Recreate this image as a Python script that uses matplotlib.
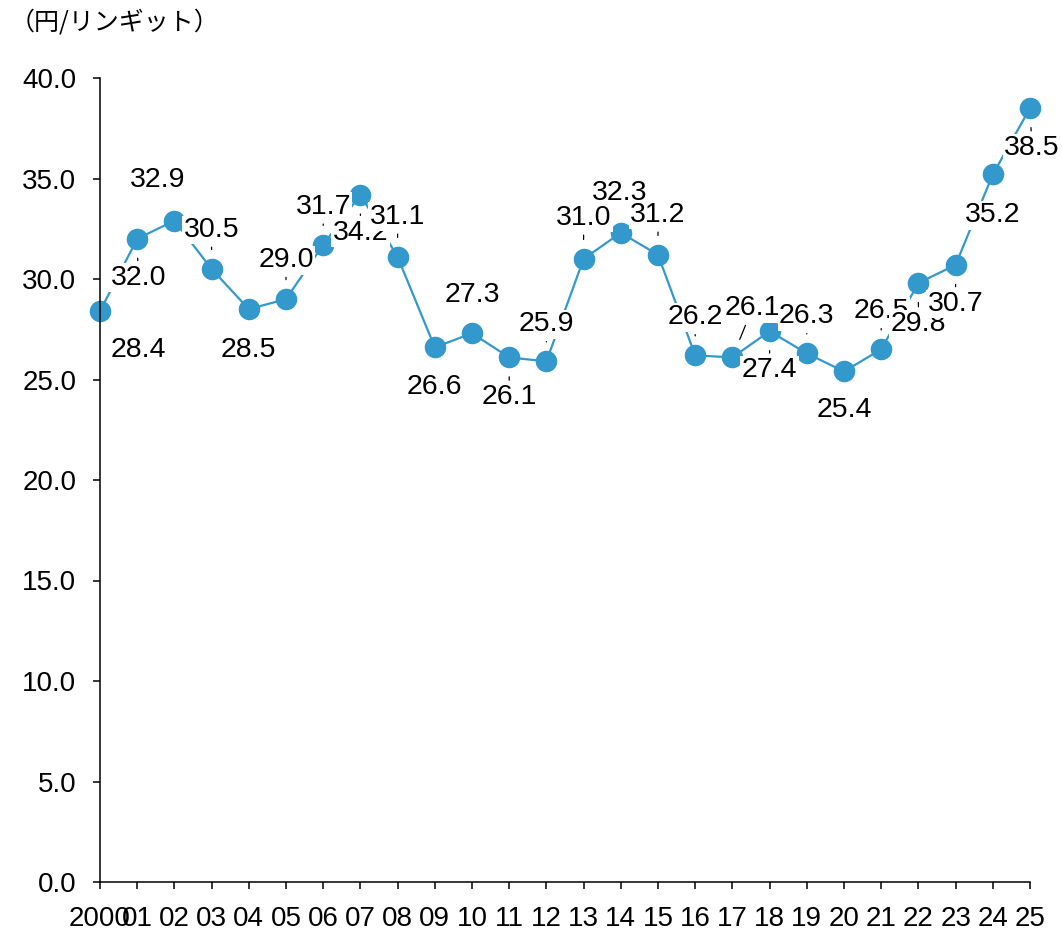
import matplotlib
matplotlib.use("Agg")
import matplotlib.pyplot as plt

# 円/リンギット（年平均）
years = ["2000"] + [f"{y:02d}" for y in range(1, 26)]
values = [28.4, 32.0, 32.9, 30.5, 28.5, 29.0, 31.7, 34.2, 31.1, 26.6,
          27.3, 26.1, 25.9, 31.0, 32.3, 31.2, 26.2, 26.1, 27.4, 26.3,
          25.4, 26.5, 29.8, 30.7, 35.2, 38.5]
# label offsets (pixels, right / down)
label_dx = [38, 1, -17, 0, 0, 0, 0, 0, 0, 0,
            0, 0, 0, 0, -1, 0, 0, 20, 0, 0,
            0, 0, 0, 0, 0, 2]
label_dy = [39, 39, -41, -39, 41, -39, -38, 38, -40, 40,
            -38, 40, -37, -41, -40, -40, -38, -49, 39, -37,
            39, -38, 41, 39, 41, 40]
# which labels get a leader line
leader = [0, 1, 0, 1, 0, 1, 1, 1, 1, 0,
          0, 1, 1, 1, 0, 1, 1, 1, 1, 1,
          0, 1, 1, 1, 0, 1]

LINE_COLOR = "#3399cc"
plt.rcParams["font.family"] = ["Liberation Sans", "Noto Sans CJK JP", "DejaVu Sans"]

fig = plt.figure(figsize=(10.62, 9.34), dpi=100)
ax = fig.add_axes([100 / 1062, 1 - 882 / 934, 930 / 1062, 804 / 934])

x = list(range(len(values)))
ax.plot(x, values, color=LINE_COLOR, linewidth=1.6, marker="o", markersize=14.5,
        markerfacecolor=LINE_COLOR, markeredgecolor=LINE_COLOR, zorder=2, clip_on=False)

px2pt = 72 / 100
for i, v in enumerate(values):
    arrow = None
    if leader[i]:
        arrow = dict(arrowstyle="-", color="black", linewidth=0.9, shrinkA=2, shrinkB=14)
    ax.annotate(
        f"{v:.1f}", xy=(i, v),
        xytext=(label_dx[i] * px2pt, -label_dy[i] * px2pt), textcoords="offset points",
        ha="center", va="center", fontsize=20.5, zorder=4 + (i != 14),
        bbox=dict(boxstyle="square,pad=0.05", fc="white", ec="none"),
        arrowprops=arrow,
    )

ax.set_xlim(0, 25)
ax.set_ylim(0, 40)
ax.set_yticks([0, 5, 10, 15, 20, 25, 30, 35, 40])
ax.set_yticklabels([f"{t:.1f}" for t in ax.get_yticks()])
ax.set_xticks(x)
ax.set_xticklabels(years)

for side in ["top", "right"]:
    ax.spines[side].set_visible(False)
for side in ["left", "bottom"]:
    ax.spines[side].set_linewidth(1.1)
ax.tick_params(axis="both", direction="out", length=5, width=1.1, labelsize=20, pad=12)

fig.text(10 / 1062, 1 - 22 / 934, "（円/リンギット）", fontsize=18, va="center", ha="left",
         family=["Noto Sans CJK JP", "DejaVu Sans"])

fig.savefig("out.png", dpi=100)
